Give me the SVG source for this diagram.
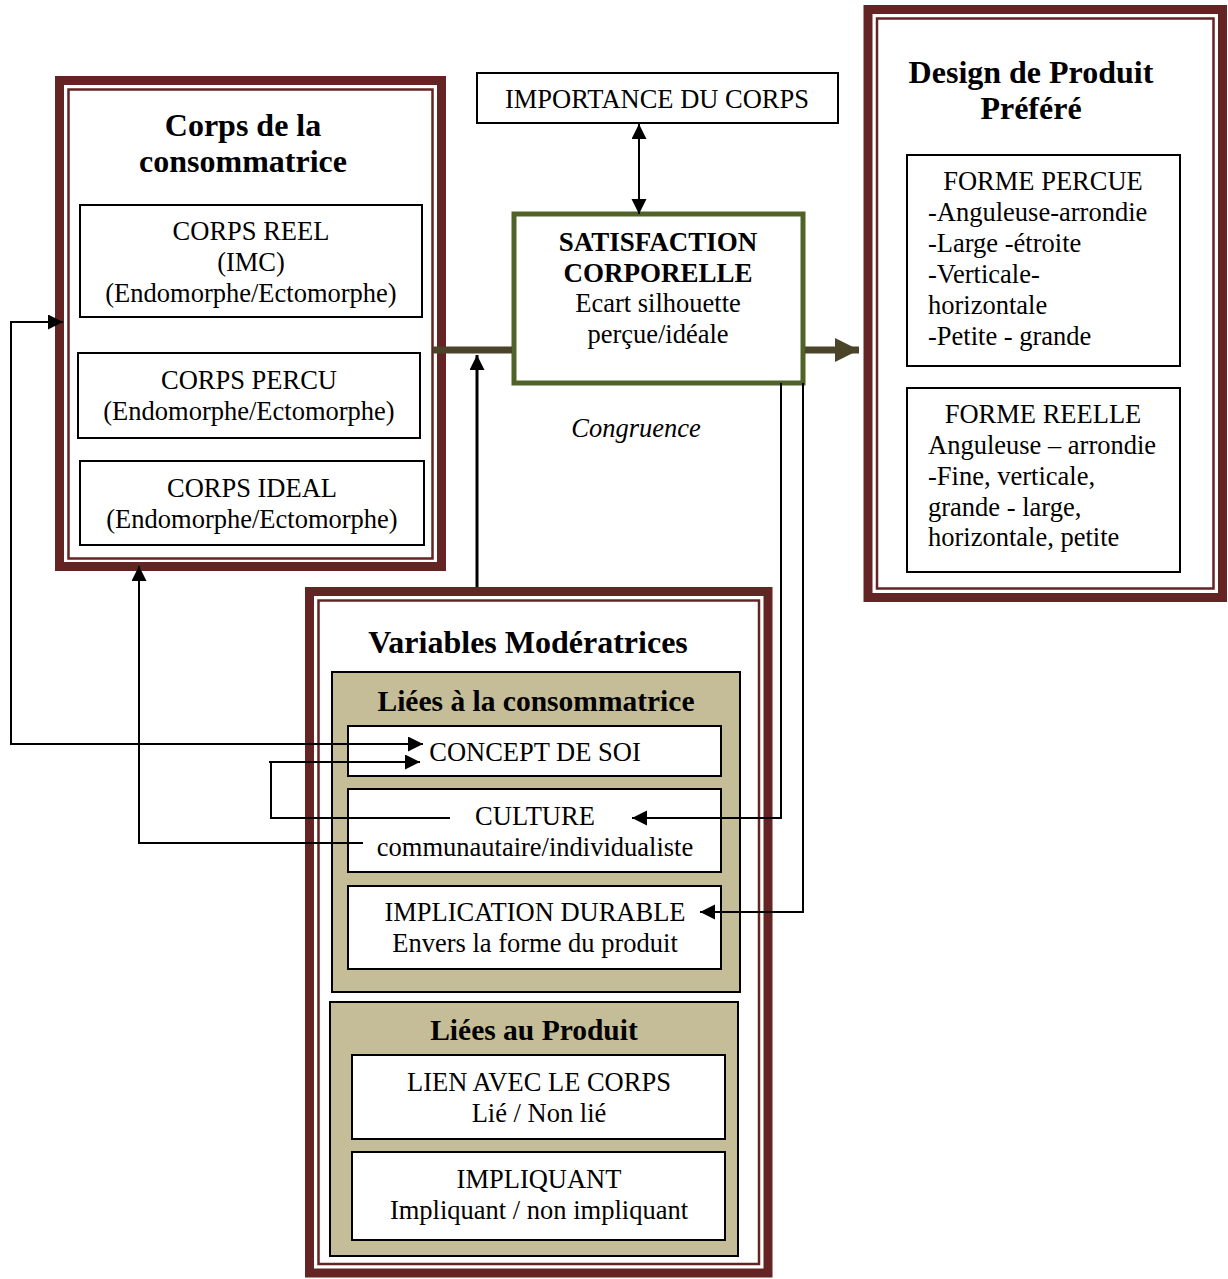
<svg xmlns="http://www.w3.org/2000/svg" width="1228" height="1279" viewBox="0 0 1228 1279">
<style>
.outer{fill:#fff;stroke:#632423;stroke-width:9}
.inner{fill:none;stroke:#632423;stroke-width:2.5}
.box{fill:#fff;stroke:#000;stroke-width:2}
.tan{fill:#C4BD97;stroke:#000;stroke-width:2}
text{font-family:"Liberation Serif","Times New Roman",serif;fill:#000}
.t{font-size:26.5px;text-anchor:middle}
.l{font-size:26.5px}
.h{font-size:32px;font-weight:bold;text-anchor:middle}
.s{font-size:29.5px;font-weight:bold;text-anchor:middle}
.b{font-size:27px;font-weight:bold;text-anchor:middle}
.c{fill:none;stroke:#000;stroke-width:2}
</style>
<defs>
<marker id="ah" markerUnits="userSpaceOnUse" markerWidth="16" markerHeight="16" refX="15" refY="7.5" orient="auto-start-reverse"><path d="M0,0 L15,7.5 L0,15 z" fill="#000"/></marker>
<marker id="oh" markerUnits="userSpaceOnUse" markerWidth="26" markerHeight="26" refX="24" refY="12" orient="auto"><path d="M0,0 L24,12 L0,24 z" fill="#4A452A"/></marker>
</defs>

<g id="corps">
<rect class="outer" x="59.5" y="80.5" width="382" height="486"/>
<rect class="inner" x="68.5" y="89.5" width="364" height="469"/>
<text class="h" x="243" y="136">Corps de la</text>
<text class="h" x="243" y="172">consommatrice</text>
</g>
<g id="corps-reel">
<rect class="box" x="80" y="205" width="342" height="112"/>
<text class="t" x="251" y="240">CORPS REEL</text>
<text class="t" x="251" y="271">(IMC)</text>
<text class="t" x="251" y="302">(Endomorphe/Ectomorphe)</text>
</g>
<g id="corps-percu">
<rect class="box" x="78" y="353" width="342" height="85"/>
<text class="t" x="249" y="389">CORPS PERCU</text>
<text class="t" x="249" y="420">(Endomorphe/Ectomorphe)</text>
</g>
<g id="corps-ideal">
<rect class="box" x="80" y="461" width="344" height="84"/>
<text class="t" x="252" y="497">CORPS IDEAL</text>
<text class="t" x="252" y="528">(Endomorphe/Ectomorphe)</text>
</g>

<g id="importance">
<rect class="box" x="477" y="73" width="361" height="50" stroke-width="1.5"/>
<text class="t" x="657" y="108">IMPORTANCE DU CORPS</text>
</g>

<g id="satisfaction">
<rect x="514" y="214" width="289" height="169" fill="#fff" stroke="#4F6228" stroke-width="5"/>
<text class="b" x="658" y="251">SATISFACTION</text>
<text class="b" x="658" y="282">CORPORELLE</text>
<text class="t" x="658" y="312">Ecart silhouette</text>
<text class="t" x="658" y="343">perçue/idéale</text>
</g>

<g id="congruence">
<text class="t" x="636" y="437" font-style="italic">Congruence</text>
</g>

<g id="design">
<rect class="outer" x="868" y="9.5" width="354.5" height="588"/>
<rect class="inner" x="877" y="18.5" width="336.5" height="570"/>
<text class="h" x="1031" y="83">Design de Produit</text>
<text class="h" x="1031" y="119">Préféré</text>
</g>
<g id="forme-percue">
<rect class="box" x="907" y="155" width="273" height="211"/>
<text class="t" x="1043" y="190">FORME PERCUE</text>
<text class="l" x="928" y="221">-Anguleuse-arrondie</text>
<text class="l" x="928" y="252">-Large -étroite</text>
<text class="l" x="928" y="283">-Verticale-</text>
<text class="l" x="928" y="314">horizontale</text>
<text class="l" x="928" y="345">-Petite - grande</text>
</g>
<g id="forme-reelle">
<rect class="box" x="907" y="388" width="273" height="184"/>
<text class="t" x="1043" y="423">FORME REELLE</text>
<text class="l" x="928" y="454">Anguleuse – arrondie</text>
<text class="l" x="928" y="485">-Fine, verticale,</text>
<text class="l" x="928" y="516">grande - large,</text>
<text class="l" x="928" y="546">horizontale, petite</text>
</g>

<g id="variables">
<rect class="outer" x="309.5" y="591.5" width="458.5" height="681.5"/>
<rect class="inner" x="318.5" y="600.5" width="440.5" height="663.5"/>
<text class="h" x="528" y="653">Variables Modératrices</text>
</g>
<g id="liees-consommatrice">
<rect class="tan" x="332" y="672" width="408" height="320"/>
<text class="s" x="536" y="711">Liées à la consommatrice</text>
</g>
<g id="concept-soi">
<rect class="box" x="348" y="726" width="373" height="50"/>
<text class="t" x="535" y="761">CONCEPT DE SOI</text>
</g>
<g id="culture">
<rect class="box" x="348" y="789" width="373" height="83"/>
<text class="t" x="535" y="825">CULTURE</text>
<text class="t" x="535" y="856">communautaire/individualiste</text>
</g>
<g id="implication">
<rect class="box" x="348" y="886" width="373" height="83"/>
<text class="t" x="535" y="921">IMPLICATION DURABLE</text>
<text class="t" x="535" y="952">Envers la forme du produit</text>
</g>
<g id="liees-produit">
<rect class="tan" x="330" y="1002" width="408" height="254"/>
<text class="s" x="534" y="1040">Liées au Produit</text>
</g>
<g id="lien-corps">
<rect class="box" x="352" y="1055" width="373" height="84"/>
<text class="t" x="539" y="1091">LIEN AVEC LE CORPS</text>
<text class="t" x="539" y="1122">Lié / Non lié</text>
</g>
<g id="impliquant">
<rect class="box" x="352" y="1152" width="373" height="88"/>
<text class="t" x="539" y="1188">IMPLIQUANT</text>
<text class="t" x="539" y="1219">Impliquant / non impliquant</text>
</g>

<g id="connectors">
<line x1="433" y1="350" x2="512" y2="350" stroke="#4A452A" stroke-width="7"/>
<line x1="805" y1="350" x2="859" y2="350" stroke="#4A452A" stroke-width="7" marker-end="url(#oh)"/>
<line x1="639" y1="124" x2="639" y2="214" class="c" marker-start="url(#ah)" marker-end="url(#ah)"/>
<line x1="477" y1="587" x2="477" y2="355" stroke="#000" stroke-width="3" marker-end="url(#ah)"/>
<polyline class="c" points="423,744 11,744 11,322 63,322" marker-start="url(#ah)" marker-end="url(#ah)"/>
<polyline class="c" points="450,818 271,818 271,762 420,762" marker-end="url(#ah)"/>
<line x1="269" y1="762" x2="273" y2="762" stroke="#000" stroke-width="2"/>
<polyline class="c" points="363,843 139,843 139,566" marker-end="url(#ah)"/>
<polyline class="c" points="781,383 781,818 632,818" marker-end="url(#ah)"/>
<polyline class="c" points="803,383 803,912 700,912" marker-end="url(#ah)"/>
</g>
</svg>
